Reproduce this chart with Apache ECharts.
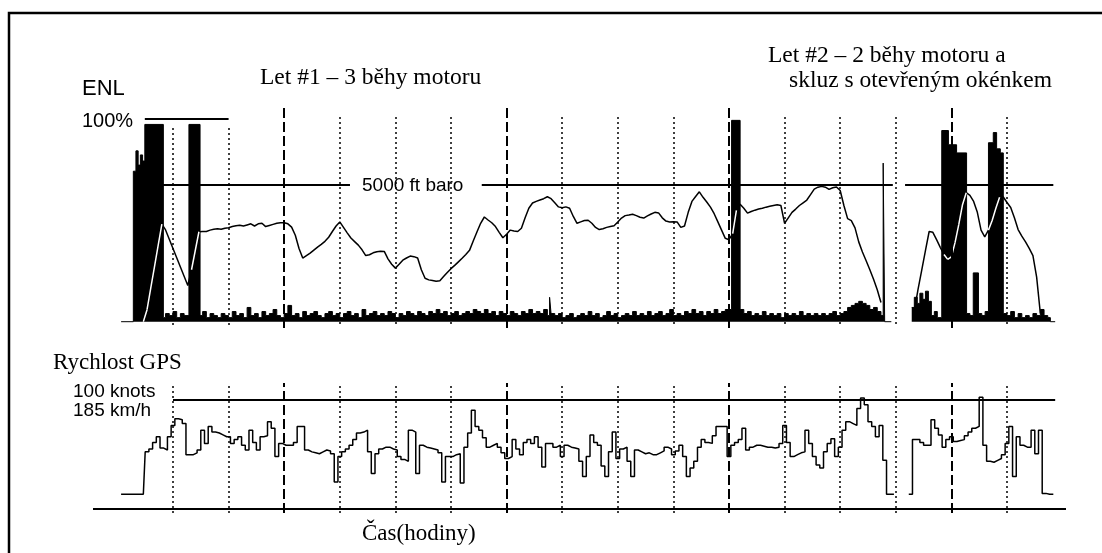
<!DOCTYPE html>
<html><head><meta charset="utf-8">
<script src="https://cdn.jsdelivr.net/npm/echarts@6/dist/echarts.min.js"></script>
<style>html,body{margin:0;padding:0;background:#fff}#c{width:1102px;height:553px}</style>
</head><body><div id="c"></div>
<script>
// ---- data (time in minutes, one sample per minute starting at minuteStart) ----
const minuteStart = 16;
const altitudeFt = [
'-','-','-','-','-','-',0,440,1230,2010,2790,3570,3356,3018,2679,2340,2002,1663,1326,1900,
2595,3290,3300,3300,3350,3380,3400,3380,3420,3440,3480,3510,3530,3500,3540,3580,3500,3580,3600,3480,
3520,3560,3600,3620,3620,3580,3460,3160,2680,2330,2420,2510,2620,2730,2830,2940,3090,3300,3500,3650,
3450,3250,3060,2930,2800,2630,2420,2450,2520,2560,2580,2570,2300,2100,1960,2100,2250,2330,2400,2380,
2330,1900,1590,1530,1510,1480,1500,1650,1800,1940,2060,2190,2320,2460,2610,2950,3280,3600,3830,3720,
3620,3480,3270,3070,3200,3350,3320,3300,3420,3800,4150,4340,4400,4450,4500,4570,4500,4350,4200,4170,
4200,4150,3850,3600,3650,3700,3710,3600,3450,3370,3400,3450,3480,3510,3650,3790,3880,3900,3930,3880,
3820,3790,3870,3940,4000,3980,3800,3680,3650,3660,3650,3450,3500,4000,4400,4580,4750,4550,4380,4190,
3950,3650,3350,3050,3000,3220,4070,4300,4150,3970,4030,4080,4120,4150,4190,4220,4250,4280,4250,3600,
3800,4000,4120,4250,4350,4450,4650,4850,4920,4950,4920,4840,4900,4930,4800,4250,3770,3700,3430,2920,
2550,2230,1900,1550,1170,700,'-','-','-','-','-','-','-','-',400,1180,1890,2600,3300,3270,
3000,2720,2460,2280,2370,2900,3560,4280,4720,4620,4400,4000,3350,3100,3350,3700,4150,4550,4560,4360,
4180,3800,3370,3130,2920,2680,2420,1630,300,'-','-','-','-','-','-'
];
const speedKnots = [
0,0,0,0,0,0,0,45,48,55,61,49,47,61,73,80,79,75,42,42,
44,47,68,54,72,66,65,63,61,61,54,58,61,52,47,68,55,47,61,62,
77,70,40,54,52,52,52,55,72,72,47,45,44,43,45,47,46,43,13,40,
45,48,52,58,65,66,68,45,22,43,48,50,50,48,47,40,37,35,68,66,
22,52,50,49,48,47,44,13,40,40,42,43,12,50,65,89,72,68,60,50,
52,54,50,44,38,40,58,48,42,55,58,54,61,50,29,54,54,50,52,40,
52,50,49,48,35,19,40,63,55,52,30,19,45,66,38,48,50,35,19,47,
45,43,44,42,42,44,46,50,48,42,46,52,40,19,28,35,50,58,55,54,
62,72,72,72,40,52,55,58,70,47,50,52,52,51,50,50,49,50,54,73,
55,40,42,44,45,68,54,40,31,28,45,54,59,40,50,68,77,75,73,91,
102,95,77,72,61,73,36,0,0,'-','-','-','-',0,58,58,55,52,52,79,
70,63,50,58,61,56,57,58,62,66,70,72,103,52,35,34,36,38,42,54,
72,19,61,52,50,50,68,43,68,1,0,0,'-','-','-'
];
// ENL (engine noise level, %) as [minute, value] change points
const enlPercent = [
[16,0],[19.3,74],[20,84],[20.6,77],[21.2,82],[21.8,79],[22.4,97],[27.4,2],[28,4],[29,3],[30,5],[31,2],[32,4],[33,3],[34.3,97],[37.3,3],
[38,5],[39,2],[40,4],[41,3],[42,2],[43,4],[44,3],[45,2],[46,5],[47,3],[48,4],[49,2],[50,7],[51,3],[52,4],[53,2],[54,5],[55,3],[56,4],[57,6],
[58,3],[59,2],[60,4],[61,8],[62,3],[63,4],[64,2],[65,5],[66,3],[67,4],[68,5],[69,3],[70,2],[71,4],[72,5],[73,3],[74,4],[75,2],[76,4],[77,5],
[78,3],[79,4],[80,2],[81,6],[82,3],[83,4],[84,5],[85,3],[86,4],[87,3],[88,5],[89,4],[90,2],[91,4],[92,3],[93,5],[94,4],[95,3],[96,5],[97,4],
[98,3],[99,5],[100,4],[101,6],[102,4],[103,5],[104,3],[105,4],[106,5],[107,3],[108,4],[109,5],[110,4],[111,6],[112,5],[113,4],[114,6],[115,4],
[116,5],[117,3],[118,5],[119,4],[120,3],[121,5],[122,4],[123,3],[124,5],[125,4],[126,6],[127,4],[128,5],[129,4],[130,6],[131,3],[131.6,12],
[132,4],[133,3],[134,4],[135,2],[136,3],[137,4],[138,2],[139,3],[140,4],[141,3],[142,5],[143,3],[144,4],[145,2],[146,3],[147,5],[148,3],
[149,4],[150,2],[151,3],[152,4],[153,3],[154,5],[155,3],[156,4],[157,3],[158,5],[159,3],[160,4],[161,5],[162,3],[163,4],[164,6],[165,3],
[166,4],[167,3],[168,5],[169,4],[170,6],[171,4],[172,5],[173,3],[174,5],[175,4],[176,6],[177,4],[178,5],[179,6],
[180.7,99],[183,6],[184,4],[185,5],[186,3],[187,4],[188,3],[189,5],[190,3],[191,4],[192,3],[193,4],[194,2],[195,4],[196,3],[197,4],[198,3],
[199,5],[200,3],[201,4],[202,3],[203,4],[204,3],[205,4],[206,3],[207,4],[208,5],[209,3],[210,4],
[211,5],[212,7],[213,8],[214,9],[215,10],[216,9],[217,8],[218,6],[219,7],[220,5],[221,3],[221.6,78],[222,0],[223.8,'-'],
[229.3,7],[230,12],[230.8,9],[231.5,14],[232.3,11],[233,15],[233.8,10],[234.6,3],[235.4,5],[236.2,2],[237.4,94],[239.2,87],[241.4,83],
[244.1,4],[245,3],[245.9,24],[247.3,4],[248.2,3],[249.1,5],[250,88],[251.3,93],[252.2,85],[253.2,83],[254,4],[255,3],[256,5],[257,2],
[258,4],[259,2],[260,3],[261,2],[262,4],[263,3],[264,6],[265,3],[266,2],[266.7,0],[268,'-']
];
const hourMinutes = [60, 120, 180, 240];
const quarterMinutes = [30, 45, 75, 90, 105, 135, 150, 165, 195, 210, 225, 255];
const enlFull = 100;            // "100%" reference
const baroRef = 5000;           // "5000 ft baro" reference
const speedRef = 100;           // "100 knots" reference
const fullScaleSpan = [22.4, 45];
const baroSpans = [[27, 77.75], [113.3, 224.2], [227.5, 267.5]];
const speedRefSpan = [30, 268];
const speedAxisLevel = -14.8;
const timeRange = [8.42, 270.92];

const texts = {
  enl: 'ENL', full: '100%', baro: '5000 ft baro',
  flight1: 'Let #1 \u2013 3 běhy motoru',
  flight2a: 'Let #2 \u2013 2 běhy motoru a',
  flight2b: 'skluz s otevřeným okénkem',
  speed: 'Rychlost GPS', knots: '100 knots', kmh: '185 km/h', time: 'Čas(hodiny)'
};

const SERIF = "'Liberation Serif','Times New Roman',serif";
const SANS = "'Liberation Sans',Arial,sans-serif";
const chart = echarts.init(document.getElementById('c'), null, {renderer: 'canvas'});
const toPairs = arr => arr.map((v, i) => [minuteStart + i, v]);
const dashed = {color: '#000', width: 2, type: [10, 4]};
const dotted = {color: '#000', width: 1.5, type: [2, 3]};
const solid = {color: '#000', width: 2, type: 'solid'};
function ml(data, style) {
  return {silent: true, symbol: ['none', 'none'], label: {show: false}, lineStyle: style,
    emphasis: {disabled: true}, animation: false, data: data};
}
function txt(x, y, s, font, align) {
  return {type: 'text', x: x, y: y, silent: true,
    style: {text: s, font: font, fill: '#000', align: align || 'left', verticalAlign: 'middle',
      textAlign: align || 'left', textVerticalAlign: 'middle'}};
}

const option = {
  animation: false,
  backgroundColor: '#fff',
  grid: [
    {left: 93, right: 36, top: 107, height: 221},
    {left: 93, right: 36, top: 383, height: 130}
  ],
  xAxis: [
    {gridIndex: 0, type: 'value', min: timeRange[0], max: timeRange[1], show: false},
    {gridIndex: 1, type: 'value', min: timeRange[0], max: timeRange[1], show: false}
  ],
  yAxis: [
    {gridIndex: 0, type: 'value', min: -3.1, max: 105.57, show: false},
    {gridIndex: 0, type: 'value', min: -230, max: 7853, show: false},
    {gridIndex: 1, type: 'value', min: -19.8, max: 118, show: false}
  ],
  graphic: [
    {type: 'polyline', silent: true, shape: {points: [[9, 600], [9, 13], [1200, 13]]},
      style: {fill: null, stroke: '#000', lineWidth: 2.5}},
    txt(82, 89, texts.enl, '22px ' + SANS),
    txt(82, 121, texts.full, '20px ' + SANS),
    txt(362, 185.5, texts.baro, '19px ' + SANS),
    txt(260, 77.5, texts.flight1, '23.5px ' + SERIF),
    txt(768, 56, texts.flight2a, '23.5px ' + SERIF),
    txt(789, 81, texts.flight2b, '23.5px ' + SERIF),
    txt(53, 362.5, texts.speed, '23px ' + SERIF),
    txt(73, 392, texts.knots, '19px ' + SANS),
    txt(73, 410.5, texts.kmh, '19px ' + SANS),
    txt(362, 534, texts.time, '23px ' + SERIF)
  ],
  series: [
    {type: 'line', xAxisIndex: 0, yAxisIndex: 0, data: [], z: 1,
      markLine: ml(hourMinutes.map(m => ({xAxis: m})), dashed)},
    {type: 'line', xAxisIndex: 0, yAxisIndex: 0, data: [], z: 1,
      markLine: ml(quarterMinutes.map(m => [{coord: [m, m < 50 ? 95.2 : 100.6]}, {coord: [m, -2.6]}]), dotted)},
    {type: 'line', xAxisIndex: 0, yAxisIndex: 0, data: [], z: 1,
      markLine: ml([[{coord: [fullScaleSpan[0], enlFull]}, {coord: [fullScaleSpan[1], enlFull]}]], solid)},
    {type: 'line', xAxisIndex: 0, yAxisIndex: 1, data: [], z: 1,
      markLine: ml(baroSpans.map(s => [{coord: [s[0], baroRef]}, {coord: [s[1], baroRef]}]), solid)},
    {id: 'altBlack', type: 'line', xAxisIndex: 0, yAxisIndex: 1, data: toPairs(altitudeFt), z: 2,
      showSymbol: false, symbol: 'none', connectNulls: false, silent: true,
      lineStyle: {color: '#000', width: 1.5}},
    {id: 'enl', type: 'line', xAxisIndex: 0, yAxisIndex: 0, data: enlPercent, z: 3, step: 'end',
      showSymbol: false, symbol: 'none', connectNulls: false, silent: true,
      lineStyle: {color: '#000', width: 1}, areaStyle: {color: '#000', opacity: 1}},
    {id: 'altWhite', type: 'line', xAxisIndex: 0, yAxisIndex: 1, data: [], z: 4,
      showSymbol: false, symbol: 'none', connectNulls: false, silent: true,
      lineStyle: {color: '#fff', width: 1.5}},
    {type: 'line', xAxisIndex: 1, yAxisIndex: 2, data: [], z: 1,
      markLine: ml(hourMinutes.map(m => ({xAxis: m})), dashed)},
    {type: 'line', xAxisIndex: 1, yAxisIndex: 2, data: [], z: 1,
      markLine: ml(quarterMinutes.map(m => ({xAxis: m})), dotted)},
    {type: 'line', xAxisIndex: 1, yAxisIndex: 2, data: [], z: 1,
      markLine: ml([
        [{coord: [speedRefSpan[0], speedRef]}, {coord: [speedRefSpan[1], speedRef]}],
        [{coord: [timeRange[0], speedAxisLevel]}, {coord: [timeRange[1], speedAxisLevel]}]
      ], solid)},
    {id: 'speed', type: 'line', xAxisIndex: 1, yAxisIndex: 2, data: toPairs(speedKnots), z: 2, step: 'middle',
      showSymbol: false, symbol: 'none', connectNulls: false, silent: true,
      lineStyle: {color: '#000', width: 1.5}}
  ]
};
chart.setOption(option);

// White altitude where the trace runs inside the black ENL blocks
function enlAt(t) {
  let v = 0;
  for (const p of enlPercent) { if (p[0] <= t) v = p[1]; else break; }
  return typeof v === 'number' ? v : 0;
}
const whitePairs = [];
for (let i = 0; i < altitudeFt.length - 1; i++) {
  const a0 = altitudeFt[i], a1 = altitudeFt[i + 1];
  if (typeof a0 !== 'number' || typeof a1 !== 'number') continue;
  const t = minuteStart + i;
  let emin = Infinity;
  for (let k = 0; k <= 10; k++) emin = Math.min(emin, enlAt(t + k / 10));
  const ePix = chart.convertToPixel({yAxisIndex: 0}, emin);
  const p0 = chart.convertToPixel({yAxisIndex: 1}, a0);
  const p1 = chart.convertToPixel({yAxisIndex: 1}, a1);
  if (ePix < Math.min(p0, p1) - 1) {
    whitePairs.push([t, a0], [t + 1, a1], [t + 1, '-']);
  }
}
chart.setOption({series: [{id: 'altWhite', data: whitePairs}]});
</script></body></html>
